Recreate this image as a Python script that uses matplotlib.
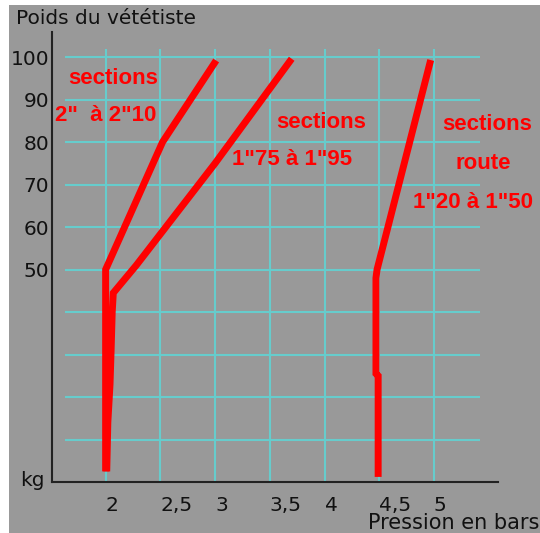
import matplotlib
matplotlib.use('Agg')
from matplotlib import pyplot as plt
from matplotlib.patches import Rectangle

# pression (bars) / poids (kg) for each red curve
vtt_large_p = [2.0, 2.0, 2.0, 2.0, 2.52, 3.01]
vtt_large_kg = [2.5, 8, 30, 50, 80, 99.2]

vtt_mid_p = [2.01, 2.02, 2.04, 2.05, 2.06, 2.07, 2.28, 3.0, 3.70]
vtt_mid_kg = [2.5, 14, 23, 31, 40, 44.5, 51, 75, 99.6]

route_p = [4.49, 4.49, 4.47, 4.47, 4.48, 4.97]
route_kg = [1.2, 25, 25.5, 48, 50, 99.3]

x_ticks = [2, 2.5, 3, 3.5, 4, 4.5, 5]
x_labels = ['2', '2,5', '3', '3,5', '4', '4,5', '5']
y_ticks = [50, 60, 70, 80, 90, 100]
y_grid = [10, 20, 30, 40, 50, 60, 70, 80, 90, 100]

gray = '#999999'
grid_col = '#66cccc'
red = '#ff0000'
font = 'DejaVu Sans'
bold_font = 'Liberation Sans'

fig = plt.figure(figsize=(5.4, 5.33), dpi=100)
fig.patch.set_facecolor('white')
fig.patches.append(Rectangle((9 / 540, 0), 531 / 540, 528 / 533, transform=fig.transFigure,
                             facecolor=gray, edgecolor='none', zorder=-10))

ax = fig.add_axes([52 / 540, 51 / 533, 446 / 540, 450 / 533])
ax.set_facecolor('none')
ax.set_xlim(1.51, 5.585)
ax.set_ylim(0, 105.9)

ax.hlines(y_grid, 1.63, 5.42, colors=grid_col, lw=1.5, zorder=1)
ax.vlines(x_ticks, 0, 101.8, colors=grid_col, lw=1.5, zorder=1)

for xs, ys in [(vtt_large_p, vtt_large_kg), (vtt_mid_p, vtt_mid_kg), (route_p, route_kg)]:
    ax.plot(xs, ys, color=red, lw=5, solid_capstyle='butt', solid_joinstyle='miter', zorder=3)

for s in ['top', 'right']:
    ax.spines[s].set_visible(False)
for s in ['left', 'bottom']:
    ax.spines[s].set_color('#222222')
    ax.spines[s].set_linewidth(1.5)

ax.set_xticks(x_ticks)
ax.set_xticklabels(x_labels, ha='left', fontsize=14.5, family=font, color='#111111')
ax.set_yticks(y_ticks)
ax.set_yticklabels([str(v) for v in y_ticks], fontsize=14.5, family=font, color='#111111')
ax.tick_params(axis='x', length=0, pad=10)
ax.tick_params(axis='y', length=0, pad=2)

txt = dict(color=red, fontsize=16, fontweight='bold', family=bold_font, ha='center', va='center', zorder=4)
ax.text(2.07, 94.9, 'sections', **txt)
ax.text(2.005, 86.2, '2"  à 2"10', **txt)
ax.text(3.97, 84.6, 'sections', **txt)
ax.text(3.70, 75.9, '1"75 à 1"95', **txt)
ax.text(5.49, 84.1, 'sections', **txt)
ax.text(5.45, 74.9, 'route', **txt)
ax.text(5.36, 65.7, '1"20 à 1"50', **txt)

fig.text(16 / 540, 1 - 19 / 533, 'Poids du vététiste', fontsize=14.5, family=font,
         color='#111111', va='center', ha='left')
fig.text(20 / 540, 1 - 480 / 533, 'kg', fontsize=14.5, family=font,
         color='#111111', va='center', ha='left')
fig.text(368 / 540, 1 - 523 / 533, 'Pression en bars', fontsize=15, family=font,
         color='#111111', va='center', ha='left')

fig.savefig('out.png', dpi=100, facecolor=fig.get_facecolor())
